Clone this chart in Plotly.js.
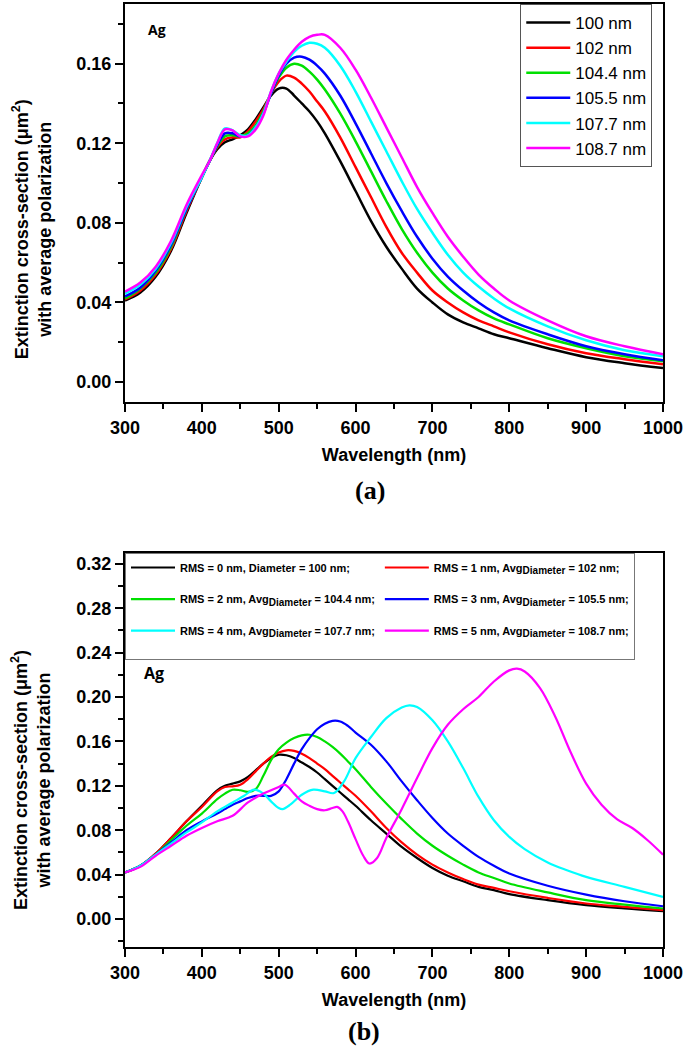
<!DOCTYPE html>
<html>
<head>
<meta charset="utf-8">
<script src="https://cdn.plot.ly/plotly-3.0.1.min.js"></script>
<style>
  html, body { margin: 0; padding: 0; background: #fff; }
  #plot { width: 685px; height: 1047px; }
</style>
</head>
<body>
<div id="plot"></div>
<script>
// ---- panel (a): ideal spheres of different diameter ----
const topNames = ['100 nm', '102 nm', '104.4 nm', '105.5 nm', '107.7 nm', '108.7 nm'];
const topWl = [300, 320, 340, 360, 380, 400, 410, 420, 430, 440, 450, 460, 470, 480, 490, 500, 510, 520, 530, 540,
               550, 560, 580, 600, 620, 640, 660, 680, 700, 720, 740, 760, 780, 800, 850, 900, 950, 1000];
const top100 = [.041, .045, .053, .066, .085, .103, .111, .117, .1205, .122, .124, .127, .132, .138, .144, .1475, .1475, .144, .140, .136,
                .131, .125, .111, .096, .081, .068, .057, .047, .040, .034, .030, .027, .024, .022, .017, .0125, .0095, .007];
const top102 = [.0415, .046, .054, .067, .086, .103, .111, .118, .122, .123, .123, .126, .131, .137, .145, .151, .154, .153, .150, .146,
                .141, .136, .123, .108, .093, .078, .065, .055, .046, .040, .035, .031, .028, .025, .019, .0145, .0115, .009];
const top104 = [.042, .047, .055, .068, .087, .103, .111, .1185, .1235, .124, .1235, .125, .129, .136, .145, .153, .158, .160, .159, .156,
                .152, .147, .135, .121, .106, .091, .077, .065, .055, .047, .041, .036, .032, .029, .022, .017, .013, .0105];
const top105 = [.043, .0475, .056, .069, .087, .103, .111, .119, .125, .125, .1235, .124, .128, .135, .145, .154, .160, .163, .1635, .162,
                .159, .155, .144, .130, .115, .100, .086, .073, .062, .053, .046, .040, .035, .031, .024, .018, .014, .011];
const top107 = [.0445, .049, .057, .070, .088, .103, .111, .120, .1275, .1265, .124, .124, .128, .135, .146, .155, .161, .166, .169, .1705,
                .170, .168, .159, .146, .131, .116, .101, .087, .075, .064, .055, .048, .042, .037, .028, .021, .016, .013];
const top108 = [.0455, .050, .058, .071, .089, .104, .111, .120, .127, .1265, .1235, .1235, .127, .134, .146, .155, .162, .167, .171, .1735,
                .1745, .1745, .168, .157, .143, .128, .113, .098, .085, .073, .063, .054, .047, .041, .031, .023, .018, .014];

// ---- panel (b): rough spheres, RMS 0..5 nm ----
const sub = '<sub><span style="font-size:10px">Diameter</span></sub>';
const bottomNames = [
  'RMS = 0 nm, Diameter = 100 nm;',
  'RMS = 1 nm, Avg' + sub + ' = 102 nm;',
  'RMS = 2 nm, Avg' + sub + ' = 104.4 nm;',
  'RMS = 3 nm, Avg' + sub + ' = 105.5 nm;',
  'RMS = 4 nm, Avg' + sub + ' = 107.7 nm;',
  'RMS = 5 nm, Avg' + sub + ' = 108.7 nm;'
];
const botWl = [300, 320, 340, 360, 380, 400, 420, 430, 440, 450, 460, 470, 480, 490, 500, 510, 520, 530, 540, 550,
               560, 570, 580, 590, 600, 620, 640, 660, 680, 700, 720, 740, 760, 780, 800, 850, 900, 950, 1000];
const rms0 = [.042, .048, .059, .073, .088, .102, .116, .120, .122, .124, .128, .134, .140, .145, .148, .1475, .145, .141, .137, .132,
              .126, .120, .114, .108, .102, .089, .077, .065, .055, .046, .039, .034, .029, .026, .0225, .017, .0125, .0095, .007];
const rms1 = [.042, .048, .059, .073, .088, .101, .115, .119, .1195, .121, .126, .133, .140, .146, .150, .152, .1515, .149, .145, .140,
              .135, .129, .123, .117, .111, .097, .082, .069, .058, .049, .042, .036, .031, .028, .025, .019, .014, .011, .008];
const rms2 = [.042, .048, .058, .071, .084, .095, .108, .113, .1165, .116, .1145, .117, .129, .143, .153, .159, .163, .1655, .166, .164,
              .160, .155, .149, .142, .135, .119, .104, .090, .077, .066, .057, .049, .042, .037, .032, .024, .017, .013, .0095];
const rms3 = [.042, .048, .058, .069, .080, .088, .095, .099, .103, .106, .109, .111, .111, .111, .115, .126, .140, .153, .163, .171,
              .176, .1785, .178, .174, .168, .157, .142, .124, .107, .091, .077, .066, .056, .048, .041, .030, .022, .016, .0115];
const rms4Wl = [300, 320, 340, 360, 380, 400, 420, 440, 455, 468, 480, 490, 500, 505, 515, 530, 545, 560, 572, 585,
                600, 620, 640, 660, 670, 680, 700, 720, 740, 760, 780, 800, 820, 850, 875, 900, 950, 1000];
const rms4 = [.042, .048, .058, .068, .078, .087, .097, .105, .111, .1165, .113, .106, .100, .099, .103, .112, .1165, .115, .1135, .124,
              .145, .164, .181, .1905, .1925, .191, .179, .160, .136, .110, .089, .074, .063, .051, .044, .038, .029, .020];
const rms5Wl = [300, 320, 340, 360, 380, 400, 420, 440, 460, 480, 500, 508, 520, 530, 540, 550, 560, 570, 576, 583,
                590, 600, 610, 618, 628, 640, 660, 680, 700, 720, 740, 760, 780, 800, 810, 820, 840, 860, 880, 900,
                920, 940, 960, 980, 1000];
const rms5 = [.042, .047, .057, .066, .075, .082, .088, .093, .105, .113, .119, .121, .113, .106, .102, .099, .098, .100, .101, .097,
              .088, .072, .057, .050, .055, .073, .099, .127, .154, .175, .189, .200, .214, .224, .2255, .223, .208, .182, .150, .122,
              .103, .090, .082, .071, .058];

const colors = ['#000000', '#ff0000', '#00e000', '#0000ff', '#00ffff', '#ff00ff'];

const topSeries = [top100, top102, top104, top105, top107, top108];
const botX = [botWl, botWl, botWl, botWl, rms4Wl, rms5Wl];
const botY = [rms0, rms1, rms2, rms3, rms4, rms5];

const traces = [];
topSeries.forEach((ys, i) => {
    traces.push({
        x: topWl, y: ys, name: topNames[i],
        type: 'scatter', mode: 'lines',
        line: { color: colors[i], width: 2.5, shape: 'spline', smoothing: 1 },
        xaxis: 'x', yaxis: 'y', legend: 'legend'
    });
});
botY.forEach((ys, i) => {
    traces.push({
        x: botX[i], y: ys, name: bottomNames[i] + '<br>&nbsp;',
        type: 'scatter', mode: 'lines',
        line: { color: colors[i], width: 2.2, shape: 'spline', smoothing: 1 },
        xaxis: 'x2', yaxis: 'y2', legend: 'legend2'
    });
});

const arial = 'Arial, Liberation Sans, sans-serif';
const tickFont = { family: arial, size: 18, color: '#000', weight: 'bold' };
const titleFont = { family: arial, size: 18, color: '#000', weight: 'bold' };
const yTitle = 'Extinction cross-section (\u03bcm<sup>2</sup>)<br>with average polarization';

function xAxis(anchor) {
    return {
        anchor: anchor, domain: [0, 1], range: [300, 1000],
        tick0: 0, dtick: 100, ticks: 'outside', ticklen: 8, tickwidth: 2, tickcolor: '#000',
        minor: { dtick: 50, ticks: 'outside', ticklen: 5, tickwidth: 2, tickcolor: '#000' },
        showline: true, linecolor: '#000', linewidth: 2, mirror: true,
        showgrid: false, zeroline: false, tickfont: tickFont,
        title: { text: 'Wavelength (nm)', font: titleFont, standoff: 12 },
        automargin: true
    };
}
function yAxis(anchor, domain, range) {
    return {
        anchor: anchor, domain: domain, range: range,
        tick0: 0, dtick: 0.04, tickformat: '.2f',
        ticks: 'outside', ticklen: 8, tickwidth: 2, tickcolor: '#000',
        minor: { dtick: 0.02, ticks: 'outside', ticklen: 5, tickwidth: 2, tickcolor: '#000' },
        showline: true, linecolor: '#000', linewidth: 2, mirror: true,
        showgrid: false, zeroline: false, tickfont: tickFont
    };
}

const layout = {
    width: 685, height: 1047,
    margin: { l: 125, r: 21, t: 2, b: 100 },
    paper_bgcolor: '#fff', plot_bgcolor: '#fff',
    showlegend: true,
    xaxis: xAxis('y'),
    yaxis: yAxis('x', [0.578, 1], [-0.01, 0.19]),
    xaxis2: xAxis('y2'),
    yaxis2: yAxis('x2', [0, 0.418], [-0.0252, 0.3299]),
    legend: {
        x: 0.7347, y: 1, xanchor: 'left', yanchor: 'top',
        bgcolor: '#fff', bordercolor: '#555', borderwidth: 1,
        font: { family: arial, size: 17, color: '#000' },
        itemwidth: 44, tracegroupgap: 0
    },
    legend2: {
        x: 0, y: 0.418, xanchor: 'left', yanchor: 'top', orientation: 'h',
        bgcolor: '#fff', bordercolor: '#777', borderwidth: 1, valign: 'top',
        font: { family: arial, size: 11, color: '#000', weight: 'bold' },
        itemwidth: 44
    },
    annotations: [
        { xref: 'paper', yref: 'paper', x: -0.1735, y: 0.7608, xanchor: 'center', yanchor: 'middle',
          textangle: -90, text: yTitle, showarrow: false, font: titleFont },
        { xref: 'paper', yref: 'paper', x: -0.1735, y: 0.1767, xanchor: 'center', yanchor: 'middle',
          textangle: -90, text: yTitle, showarrow: false, font: titleFont },
        { xref: 'x domain', yref: 'y domain', x: 0.039, y: 0.935, xanchor: 'left', yanchor: 'middle',
          text: 'Ag', showarrow: false, font: { family: 'Open Sans, sans-serif', size: 14, weight: 'bold', color: '#000' } },
        { xref: 'x2 domain', yref: 'y2 domain', x: 0.032, y: 0.694, xanchor: 'left', yanchor: 'middle',
          text: 'Ag', showarrow: false, font: { family: 'Open Sans, sans-serif', size: 16, weight: 'bold', color: '#000' } },
        { xref: 'paper', yref: 'paper', x: 0.456, y: 0.4836, xanchor: 'center', yanchor: 'middle',
          text: '(a)', showarrow: false, font: { family: 'Liberation Serif, serif', size: 26, weight: 'bold', color: '#000' } },
        { xref: 'paper', yref: 'paper', x: 0.445, y: -0.09, xanchor: 'center', yanchor: 'middle',
          text: '(b)', showarrow: false, font: { family: 'Liberation Serif, serif', size: 26, weight: 'bold', color: '#000' } }
    ]
};

Plotly.newPlot('plot', traces, layout, { displayModeBar: false, staticPlot: true });
</script>
</body>
</html>
